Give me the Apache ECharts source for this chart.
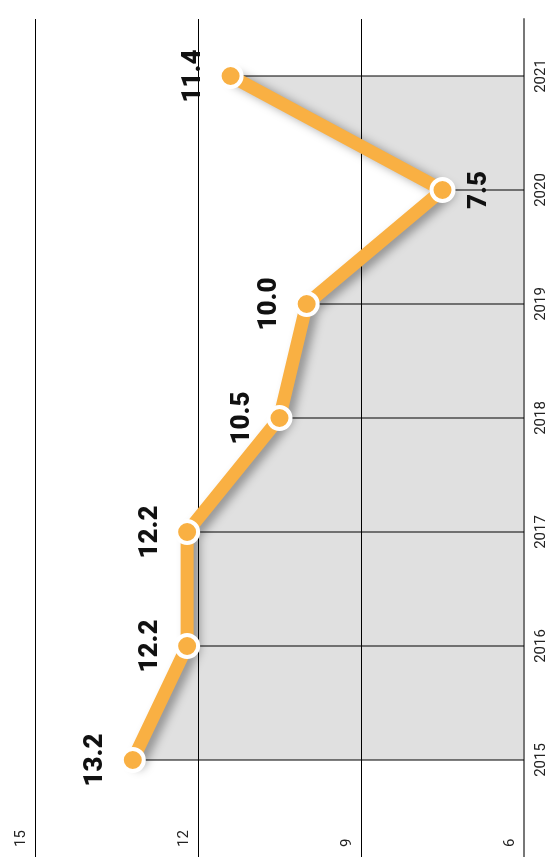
<!DOCTYPE html>
<html>
<head>
<meta charset="utf-8">
<script src="https://cdn.jsdelivr.net/npm/echarts@6/dist/echarts.min.js"></script>
<style>
  html, body { margin: 0; padding: 0; background: #fff; }
  #chart { width: 552px; height: 857px; }
</style>
</head>
<body>
<div id="chart"></div>
<script>
var years = ['2015', '2016', '2017', '2018', '2019', '2020', '2021'];
var rates = [13.2, 12.2, 12.2, 10.5, 10.0, 7.5, 11.4];
// which side of the point the value label sits on
var labelSides = ['left', 'left', 'left', 'left', 'left', 'right', 'left'];
var valueMin = 6, valueMax = 15, valueStep = 3;

var lineColor = '#F9B043';
var lightFont = { fontFamily: 'Roboto', fontWeight: 400, fontSize: 15, color: '#222' };

var lineData = [];
for (var i = 0; i < rates.length; i++) {
	var item = { value: rates[i] };
	if (labelSides[i] == 'right') {
		item.label = { position: 'right', verticalAlign: 'top' };
	}
	lineData.push(item);
}

var chart = echarts.init(document.getElementById('chart'));
var option = {
	animation: false,
	backgroundColor: '#fff',
	grid: [
		{ left: 35, right: 28, top: 19, bottom: 40 },
		{ left: 35, right: 28, top: 817, bottom: 0 }
	],
	xAxis: [{
		gridIndex: 0,
		type: 'value',
		inverse: true,
		min: valueMin,
		max: valueMax,
		interval: valueStep,
		axisLine: { show: false },
		axisTick: { show: false },
		axisLabel: { show: false },
		splitLine: { show: true, lineStyle: { color: '#000', width: 1 } }
	}, {
		gridIndex: 1,
		type: 'value',
		inverse: true,
		min: valueMin,
		max: valueMax,
		interval: valueStep,
		axisLine: { show: false },
		axisTick: { show: false },
		axisLabel: Object.assign({
			inside: true,
			rotate: 90,
			align: 'left',
			verticalAlign: 'bottom',
			margin: 10,
			padding: [0, 0, 6, 0]
		}, lightFont),
		splitLine: { show: true, lineStyle: { color: '#000', width: 1 } }
	}],
	yAxis: [{
		gridIndex: 0,
		type: 'category',
		data: years,
		position: 'right',
		boundaryGap: true,
		axisLine: { show: true, lineStyle: { color: '#777', width: 2 } },
		axisTick: { show: false },
		splitLine: { show: false },
		axisLabel: Object.assign({
			rotate: 90,
			align: 'center',
			verticalAlign: 'top',
			margin: 10
		}, lightFont)
	}, {
		gridIndex: 1,
		type: 'category',
		data: [''],
		position: 'right',
		axisLine: { show: true, lineStyle: { color: '#777', width: 2 } },
		axisTick: { show: false },
		axisLabel: { show: false },
		splitLine: { show: false }
	}],
	series: [{
		// gray fill between the line and the right axis (under the grid lines)
		type: 'line',
		xAxisIndex: 0,
		yAxisIndex: 0,
		data: rates,
		z: -1,
		silent: true,
		symbol: 'none',
		lineStyle: { width: 0 },
		areaStyle: { color: '#e0e0e0', origin: 'start', opacity: 1 }
	}, {
		// thin drop lines from each point to the axis
		type: 'bar',
		xAxisIndex: 0,
		yAxisIndex: 0,
		data: rates,
		z: 2,
		silent: true,
		barWidth: 1,
		itemStyle: { color: '#000' }
	}, {
		type: 'line',
		xAxisIndex: 0,
		yAxisIndex: 0,
		data: lineData,
		z: 3,
		symbol: 'circle',
		symbolSize: 22,
		lineStyle: {
			color: lineColor,
			width: 13,
			cap: 'round',
			join: 'round',
			shadowColor: 'rgba(0,0,0,0.35)',
			shadowBlur: 10,
			shadowOffsetX: 6,
			shadowOffsetY: 3
		},
		itemStyle: { color: lineColor, borderColor: '#fff', borderWidth: 4 },
		label: {
			show: true,
			position: 'left',
			distance: 11,
			rotate: 90,
			align: 'center',
			verticalAlign: 'bottom',
			fontFamily: 'Roboto',
			fontWeight: 900,
			fontSize: 26,
			color: '#111',
			formatter: function(p) {
				return Number(p.value).toFixed(1);
			}
		}
	}]
};
chart.setOption(option);
</script>
</body>
</html>
